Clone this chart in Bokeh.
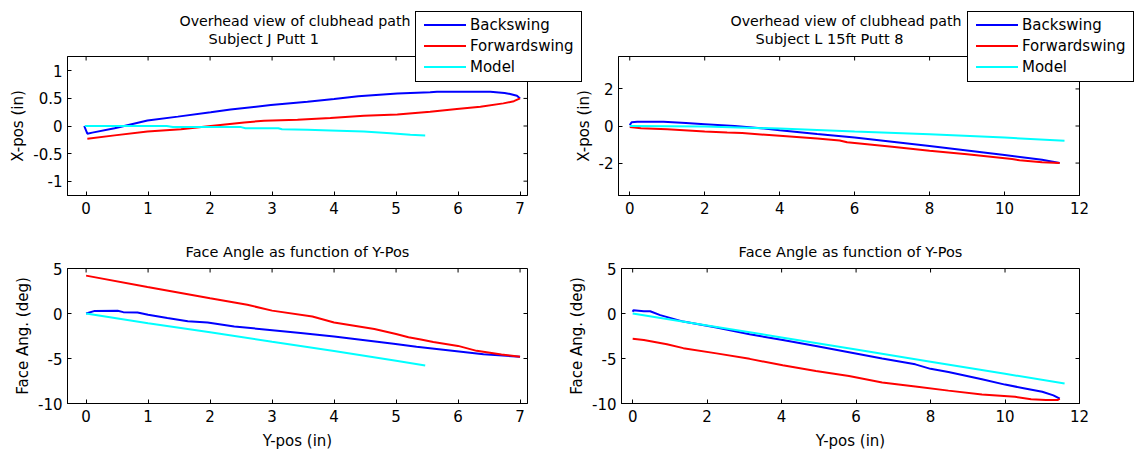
from bokeh.plotting import figure
from bokeh.models import FixedTicker, CustomJSTickFormatter, Title, Range1d, Div
from bokeh.layouts import row, column
from bokeh.embed import file_html
from bokeh.resources import INLINE

# ---------------- data ----------------
# Subject J Putt 1 : overhead path (Y-pos -> X-pos)
j_back_ypos = [-0.03, 0.02, 0.1, 0.46, 0.99, 1.48, 2.01, 2.33, 2.98, 3.57, 4.0, 4.39,
               5.02, 5.55, 5.66, 6.2, 6.52, 6.75, 6.84, 6.95, 7.0]
j_back_xpos = [0.0, -0.14, -0.12, -0.04, 0.1, 0.17, 0.25, 0.3, 0.38, 0.44, 0.49, 0.54,
               0.59, 0.61, 0.62, 0.62, 0.62, 0.6, 0.58, 0.55, 0.5]
j_fwd_ypos = [7.0, 6.9, 6.73, 6.36, 5.98, 5.55, 5.02, 4.48, 3.94, 3.41, 2.87, 2.55,
              2.01, 1.53, 0.99, 0.46, 0.02]
j_fwd_xpos = [0.5, 0.45, 0.41, 0.35, 0.31, 0.26, 0.21, 0.186, 0.145, 0.115, 0.095, 0.065,
              0.0, -0.06, -0.1, -0.17, -0.23]
j_model_ypos = [-0.02, 1.3, 1.4, 2.5, 2.57, 3.1, 3.16, 3.57, 3.94, 4.48, 4.91, 5.23, 5.47]
j_model_xpos = [0.0, 0.0, -0.02, -0.02, -0.04, -0.04, -0.06, -0.07, -0.08, -0.1, -0.13,
                -0.16, -0.17]

# Subject L 15ft Putt 8 : overhead path
l_back_ypos = [0.0, 0.05, 0.2, 0.9, 1.5, 2.0, 2.8, 3.5, 4.0, 5.0, 6.0, 7.0, 8.0, 9.0,
               10.0, 11.0, 11.47]
l_back_xpos = [0.05, 0.2, 0.23, 0.23, 0.16, 0.1, 0.0, -0.12, -0.23, -0.43, -0.62, -0.85,
               -1.08, -1.32, -1.57, -1.82, -2.0]
l_fwd_ypos = [11.47, 11.0, 10.4, 10.2, 9.0, 8.0, 7.0, 6.0, 5.8, 5.6, 5.0, 4.0, 3.0, 2.6,
              2.0, 1.0, 0.3, 0.0]
l_fwd_xpos = [-2.0, -1.95, -1.85, -1.78, -1.52, -1.33, -1.12, -0.92, -0.88, -0.78, -0.68,
              -0.53, -0.38, -0.35, -0.3, -0.17, -0.12, -0.06]
l_model_ypos = [0.0, 2.0, 4.0, 6.0, 8.0, 10.0, 11.6]
l_model_xpos = [0.0, -0.03, -0.14, -0.3, -0.44, -0.62, -0.8]

# Subject J : face angle (Y-pos -> deg)
j_back_ang_y = [0.0, 0.14, 0.51, 0.6, 0.83, 1.0, 1.31, 1.64, 1.96, 2.39, 2.92, 3.46, 4.0,
                4.53, 4.96, 5.33, 5.87, 6.41, 7.0]
j_back_ang = [0.0, 0.29, 0.31, 0.15, 0.1, -0.15, -0.5, -0.87, -1.0, -1.44, -1.8, -2.16,
              -2.55, -2.99, -3.35, -3.7, -4.1, -4.53, -4.8]
j_fwd_ang_y = [7.0, 6.7, 6.3, 6.0, 5.6, 5.4, 5.2, 5.0, 4.65, 4.0, 3.65, 3.0, 2.6, 2.3,
               2.0, 0.99, 0.0]
j_fwd_ang = [-4.8, -4.55, -4.15, -3.6, -3.17, -2.88, -2.63, -2.27, -1.73, -1.0, -0.34,
             0.32, 0.97, 1.33, 1.69, 2.95, 4.21]
j_model_ang_y = [0.0, 1.0, 2.0, 3.0, 4.0, 5.0, 5.47]
j_model_ang = [0.0, -1.08, -2.08, -3.15, -4.17, -5.25, -5.79]

# Subject L : face angle
l_back_ang_y = [0.0, 0.02, 0.3, 0.47, 0.74, 1.36, 2.25, 3.14, 4.03, 4.92, 5.81, 6.7, 7.59,
                8.0, 8.48, 9.38, 10.0, 10.5, 11.0, 11.3, 11.47]
l_back_ang = [0.2, 0.35, 0.25, 0.25, -0.18, -0.9, -1.55, -2.3, -2.95, -3.6, -4.3, -5.0,
              -5.65, -6.15, -6.5, -7.3, -7.9, -8.3, -8.7, -9.1, -9.47]
l_fwd_ang_y = [0.0, 0.3, 0.92, 1.36, 2.25, 3.14, 4.03, 4.92, 5.81, 6.7, 7.59, 8.48, 9.38,
               10.27, 10.7, 11.1, 11.42, 11.47]
l_fwd_ang = [-2.81, -2.95, -3.42, -3.85, -4.43, -5.04, -5.76, -6.4, -6.94, -7.66, -8.1,
             -8.57, -9.0, -9.25, -9.53, -9.6, -9.6, -9.47]
l_model_ang_y = [0.0, 2.0, 4.0, 6.0, 8.0, 10.0, 11.6]
l_model_ang = [0.0, -1.33, -2.66, -4.0, -5.35, -6.7, -7.77]

series_names = ["Backswing", "Forwardswing", "Model"]
series_colors = ["#0000ff", "#ff0000", "#00ffff"]

ticks_x_j = [0, 1, 2, 3, 4, 5, 6, 7]
ticks_x_l = [0, 2, 4, 6, 8, 10, 12]
ticks_y_path_j = [-1, -0.5, 0, 0.5, 1]
ticks_y_path_l = [-2, 0, 2]
ticks_y_ang = [-10, -5, 0, 5]

FONT = "DejaVu Sans"
FS = "15px"
TFS = "14.5px"
FMT = "return tick.toString()"


def make_fig(width, height, xr, yr, xticks, yticks, borders, xlabel=None, ylabel=None,
             **kw):
    l, r, t, b = borders
    p = figure(width=width, height=height, x_range=Range1d(*xr), y_range=Range1d(*yr),
               output_backend="svg", toolbar_location=None,
               min_border_left=l, min_border_right=r, min_border_top=t,
               min_border_bottom=b, **kw)
    p.xgrid.visible = False
    p.ygrid.visible = False
    p.outline_line_color = "black"
    p.outline_line_width = 1
    p.outline_line_alpha = 1
    p.background_fill_color = "white"
    for ax, ticks in ((p.xaxis[0], xticks), (p.yaxis[0], yticks)):
        ax.ticker = FixedTicker(ticks=ticks)
        ax.formatter = CustomJSTickFormatter(code=FMT)
        ax.major_tick_in = 4
        ax.major_tick_out = 0
        ax.minor_tick_line_color = None
        ax.axis_line_color = "black"
        ax.major_tick_line_color = "black"
        ax.major_label_text_font = FONT
        ax.major_label_text_font_size = FS
        ax.major_label_text_color = "black"
        ax.axis_label_text_font = FONT
        ax.axis_label_text_font_size = FS
        ax.axis_label_text_font_style = "normal"
        ax.axis_label_text_color = "black"
    p.xaxis.major_label_standoff = 6
    p.yaxis.major_label_standoff = 5
    p.xaxis.axis_label_standoff = 7
    p.yaxis.axis_label_standoff = 3
    if xlabel:
        p.xaxis.axis_label = xlabel
    if ylabel:
        p.yaxis.axis_label = ylabel
    # mirrored inward ticks on the top and right edges of the box
    p.ray(x=xticks, y=[yr[1]] * len(xticks), length=4, length_units="screen",
          angle=-90, angle_units="deg", line_color="black", line_width=1)
    p.ray(x=[xr[1]] * len(yticks), y=yticks, length=4, length_units="screen",
          angle=180, angle_units="deg", line_color="black", line_width=1)
    return p


def add_lines(p, xs_list, ys_list):
    for xs, ys, c in zip(xs_list, ys_list, series_colors):
        p.line(xs, ys, line_color=c, line_width=2)


def legend_box(shift):
    # legend box laid over the top of the panel (it reaches past the axes box)
    parts = []
    for i, (name, c) in enumerate(zip(series_names, series_colors)):
        parts.append(
            f'<div style="position:absolute;left:8px;top:{12 + 21 * i}px;width:42px;'
            f'height:2px;background:{c};"></div>'
            f'<div style="position:absolute;left:54px;top:{4 + 21 * i}px;height:18px;'
            f'line-height:18px;white-space:nowrap;">{name}</div>')
    html = ('<div style="position:relative;width:167px;height:71px;box-sizing:border-box;'
            "border:1px solid #000;background:#fff;font-family:'DejaVu Sans';"
            'font-size:15px;color:#000;">' + "".join(parts) + "</div>")
    return Div(text=html, width=167, height=71, margin=(11, 0, 0, shift))


def make_title(text, size=TFS, **kw):
    return Title(text=text, text_font=FONT, text_font_size=size, text_font_style="normal",
                 text_color="black", **kw)


def add_two_titles(p, line1, line2, offset1, offset2):
    t2 = make_title(line2, align="left", offset=offset2, standoff=19)
    t1 = make_title(line1, size="14.2px", align="left", offset=offset1, standoff=0)
    try:
        t1.standoff = -19
    except Exception:
        t1.standoff = 0
    p.add_layout(t2, "above")
    p.add_layout(t1, "above")


def add_title(p, text):
    p.add_layout(make_title(text, align="center", standoff=18), "above")


# ---------------- top-left ----------------
pA = make_fig(582, 226, (-0.3, 7.12), (-1.26, 1.26), ticks_x_j, ticks_y_path_j,
              (67, 55, 56, 31), ylabel="X-pos (in)")
add_lines(pA, [j_back_ypos, j_fwd_ypos, j_model_ypos],
          [j_back_xpos, j_fwd_xpos, j_model_xpos])
add_two_titles(pA, "Overhead view of clubhead path", "Subject J Putt 1", 112, 141)
legA = legend_box(-167)

# ---------------- top-right ----------------
pB = make_fig(565, 226, (-0.3, 12.0), (-3.75, 3.75), ticks_x_l, ticks_y_path_l,
              (48, 56, 56, 31), ylabel="X-pos (in)", margin=(0, 0, 0, -12))
pB.border_fill_alpha = 0
add_lines(pB, [l_back_ypos, l_fwd_ypos, l_model_ypos],
          [l_back_xpos, l_fwd_xpos, l_model_xpos])
add_two_titles(pB, "Overhead view of clubhead path", "Subject L 15ft Putt 8", 112, 137)
legB = legend_box(-168)

# ---------------- bottom-left ----------------
pC = make_fig(565, 226, (-0.3, 7.12), (-10, 5), ticks_x_j, ticks_y_ang,
              (67, 38, 42, 45), xlabel="Y-pos (in)", ylabel="Face Ang. (deg)")
add_lines(pC, [j_back_ang_y, j_fwd_ang_y, j_model_ang_y],
          [j_back_ang, j_fwd_ang, j_model_ang])
add_title(pC, "Face Angle as function of Y-Pos")

# ---------------- bottom-right ----------------
pD = make_fig(570, 226, (-0.3, 12.0), (-10, 5), ticks_x_l, ticks_y_ang,
              (54, 56, 42, 45), xlabel="Y-pos (in)", ylabel="Face Ang. (deg)")
add_lines(pD, [l_back_ang_y, l_fwd_ang_y, l_model_ang_y],
          [l_back_ang, l_fwd_ang, l_model_ang])
add_title(pD, "Face Angle as function of Y-Pos")

layout = column(row(pA, legA, pB, legB), row(pC, pD))
open("out.html", "w").write(file_html(layout, INLINE))
